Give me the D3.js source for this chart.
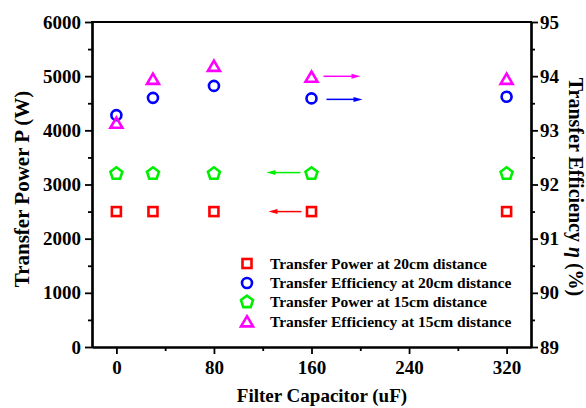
<!DOCTYPE html>
<html><head><meta charset="utf-8">
<script src="https://cdn.jsdelivr.net/npm/d3@7"></script>
<style>
body{margin:0;background:#fff;}
svg{display:block;font-family:"Liberation Serif","Times New Roman",serif;font-weight:bold;}
</style></head>
<body><svg id="c" width="586" height="408"></svg>
<script>
const capacitors = [0, 30, 80, 160, 320];
const power20 = [2500, 2500, 2500, 2500, 2500];
const eff20 = [93.28, 93.60, 93.82, 93.59, 93.62];
const power15 = [3220, 3220, 3220, 3220, 3220];
const eff15 = [93.12, 93.93, 94.17, 93.97, 93.93];
const xTicks = [0, 80, 160, 240, 320];
const yLeftTicks = [0, 1000, 2000, 3000, 4000, 5000, 6000];
const yRightTicks = [89, 90, 91, 92, 93, 94, 95];
const legendLabels = ["Transfer Power at 20cm distance","Transfer Efficiency at 20cm distance","Transfer Power at 15cm distance","Transfer Efficiency at 15cm distance"];

const svg = d3.select("#c");
const L=92, R=531, T=22, B=347;
const x = d3.scaleLinear().domain([-20,340]).range([L,R]);
const yL = d3.scaleLinear().domain([0,6000]).range([B,T]);
const yR = d3.scaleLinear().domain([89,95]).range([B,T]);

const tickFont = "19px";
function styleAxis(g){
  g.selectAll("path").attr("stroke","#000").attr("stroke-width",2.2);
  g.selectAll("line").attr("stroke","#000").attr("stroke-width",1.8);
  g.selectAll("text").attr("font-size",tickFont).attr("font-weight","bold").attr("fill","#000")
   .attr("font-family",'"Liberation Serif","Times New Roman",serif');
}
// minor ticks
const gx = svg.append("g").attr("transform",`translate(0,${B})`)
  .call(d3.axisBottom(x).tickValues([40,120,200,280]).tickSize(4).tickFormat("").tickSizeOuter(0));
styleAxis(gx);
const gx2 = svg.append("g").attr("transform",`translate(0,${B})`)
  .call(d3.axisBottom(x).tickValues(xTicks).tickSize(7).tickPadding(5).tickSizeOuter(0));
styleAxis(gx2);
gx2.selectAll("text").attr("dy","0.8em");

const gl = svg.append("g").attr("transform",`translate(${L},0)`)
  .call(d3.axisLeft(yL).tickValues(d3.range(500,6000,1000)).tickSize(4).tickFormat("").tickSizeOuter(0));
styleAxis(gl);
const gl2 = svg.append("g").attr("transform",`translate(${L},0)`)
  .call(d3.axisLeft(yL).tickValues(yLeftTicks).tickSize(7).tickPadding(4).tickSizeOuter(0).tickFormat(d3.format("d")));
styleAxis(gl2);

const gr = svg.append("g").attr("transform",`translate(${R},0)`)
  .call(d3.axisRight(yR).tickValues(d3.range(89.5,95,1)).tickSize(4).tickFormat("").tickSizeOuter(0));
styleAxis(gr);
const gr2 = svg.append("g").attr("transform",`translate(${R},0)`)
  .call(d3.axisRight(yR).tickValues(yRightTicks).tickSize(7).tickPadding(2).tickSizeOuter(0).tickFormat(d3.format("d")));
styleAxis(gr2);

// top border
svg.append("line").attr("x1",L-1).attr("x2",R+1).attr("y1",T).attr("y2",T).attr("stroke","#000").attr("stroke-width",2.2);

// markers
const sw = 2.6;
function square(g, cx, cy, c){ g.append("rect").attr("x",cx-4.5).attr("y",cy-4.5).attr("width",9).attr("height",9).attr("fill","none").attr("stroke",c).attr("stroke-width",sw); }
function circle(g, cx, cy, c){ g.append("circle").attr("cx",cx).attr("cy",cy).attr("r",5).attr("fill","none").attr("stroke",c).attr("stroke-width",sw); }
function pent(g, cx, cy, c){
  const r=6.3; const pts=d3.range(5).map(i=>{const a=-Math.PI/2+i*2*Math.PI/5;return [cx+r*Math.cos(a), cy+1+r*Math.sin(a)];});
  g.append("polygon").attr("points",pts.map(p=>p.join(",")).join(" ")).attr("fill","none").attr("stroke",c).attr("stroke-width",sw).attr("stroke-linejoin","miter");
}
function tri(g, cx, cy, c){
  const r=6.3; const pts=[[cx,cy-r],[cx+r*0.95,cy+r*0.62],[cx-r*0.95,cy+r*0.62]];
  g.append("polygon").attr("points",pts.map(p=>p.join(",")).join(" ")).attr("fill","none").attr("stroke",c).attr("stroke-width",sw);
}
const RED="#ff0000", BLUE="#0000ff", GREEN="#00ee00", MAG="#ff00ff";
const gm = svg.append("g");
capacitors.forEach((cv,i)=>{
  square(gm, x(cv), yL(power20[i]), RED);
  pent(gm, x(cv), yL(power15[i]), GREEN);
  circle(gm, x(cv), yR(eff20[i]), BLUE);
  tri(gm, x(cv), yR(eff15[i]), MAG);
});

// arrows
function arrow(x1,x2,y,c){
  svg.append("line").attr("x1",x1).attr("x2",x2 - Math.sign(x2-x1)*6).attr("y1",y).attr("y2",y).attr("stroke",c).attr("stroke-width",1.5);
  const d=Math.sign(x2-x1);
  svg.append("polygon").attr("points",`${x2},${y} ${x2-d*9},${y-2.5} ${x2-d*9},${y+2.5}`).attr("fill",c);
}
arrow(x(160)+12, x(160)+49, yR(eff15[3]) - 1.5, MAG);
arrow(x(160)+15, x(160)+51, yR(eff20[3]) + 1, BLUE);
arrow(x(160)-11, x(160)-45, yL(power15[3]), GREEN);
arrow(x(160)-10, x(160)-43, yL(power20[3]), RED);

// legend
const lx=247, ly=[263.5,283,302,321.5];
const lg = svg.append("g");
square(lg, lx, ly[0], RED);
circle(lg, lx, ly[1], BLUE);
pent(lg, lx, ly[2]-1, GREEN);
tri(lg, lx, ly[3]+1, MAG);
legendLabels.forEach((t,i)=>{
  lg.append("text").attr("x",270).attr("y",ly[i]).attr("dy","0.35em").attr("font-size","15.5px").text(t);
});

// axis titles
svg.append("text").attr("transform",`translate(29,189) rotate(-90)`).attr("text-anchor","middle")
  .attr("font-size","21px").text("Transfer Power P (W)");
svg.append("text").attr("x",322).attr("y",402).attr("text-anchor","middle")
  .attr("font-size","19px").text("Filter Capacitor (uF)");
const rt = svg.append("text").attr("transform",`translate(569,187) rotate(90)`).attr("text-anchor","middle")
  .attr("font-size","20px");
rt.append("tspan").text("Transfer Efficiency  ");
rt.append("tspan").attr("font-style","italic").text("η");
rt.append("tspan").text(" (%)");
</script></body></html>
